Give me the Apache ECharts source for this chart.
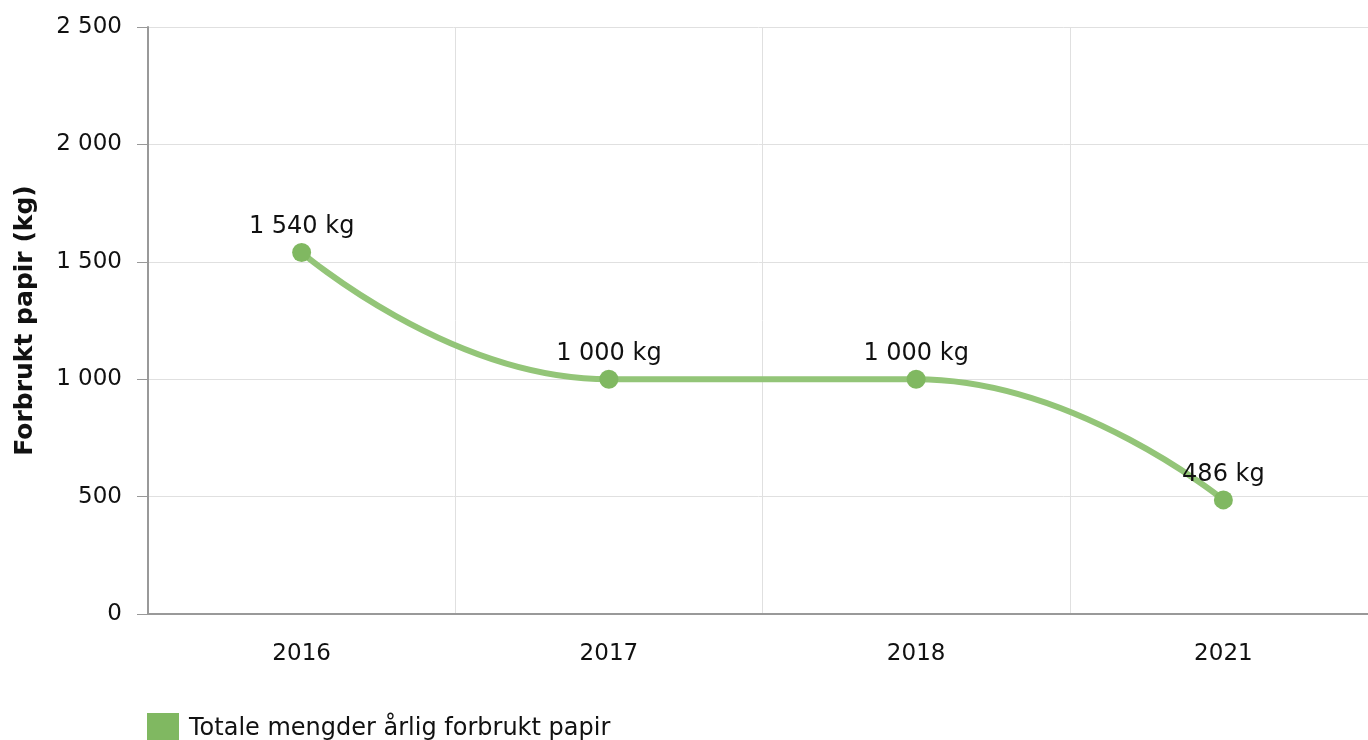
<!DOCTYPE html>
<html lang="no">
<head>
    <meta charset="utf-8">
    <title>Forbrukt papir</title>
    <script src="https://cdn.jsdelivr.net/npm/echarts@6/dist/echarts.min.js"></script>
    <style>
        html, body { margin: 0; padding: 0; background: #fff; }
        #main { width: 1368px; height: 740px; }
    </style>
</head>
<body>
<div id="main"></div>
<script type="text/javascript">
    // data
    var years = ['2016', '2017', '2018', '2021'];
    var paperKg = [1540, 1000, 1000, 486];
    var seriesName = 'Totale mengder årlig forbrukt papir';
    var yName = 'Forbrukt papir (kg)';

    // "1 540" style numbers
    function fmt(v) {
        return String(v).replace(/\B(?=(\d{3})+(?!\d))/g, ' ');
    }

    var font = 'DejaVu Sans, Verdana, sans-serif';
    var myChart = echarts.init(document.getElementById('main'));

    var option = {
        animation: false,
        textStyle: { fontFamily: font },
        grid: { left: 148, top: 27, bottom: 126, width: 1229, containLabel: false, outerBoundsMode: 'none' },
        legend: {
            data: [seriesName],
            left: 142,
            top: 708,
            icon: 'rect',
            itemWidth: 32,
            itemHeight: 32,
            textStyle: { fontSize: 24, color: '#111', fontFamily: font, padding: [0, 0, 0, 5] }
        },
        xAxis: {
            type: 'category',
            data: years,
            boundaryGap: true,
            axisLine: { lineStyle: { color: '#999', width: 2 } },
            axisTick: { alignWithLabel: true, length: 6, lineStyle: { color: '#999' } },
            axisLabel: { fontSize: 23, color: '#111', margin: 29, fontFamily: font },
            splitLine: { show: true, lineStyle: { color: '#e0e0e0' } }
        },
        yAxis: {
            type: 'value',
            min: 0,
            max: 2500,
            interval: 500,
            name: yName,
            nameLocation: 'middle',
            nameRotate: 90,
            nameGap: 110,
            nameTextStyle: { fontSize: 25, fontWeight: 'bold', color: '#111', fontFamily: font },
            axisLine: { show: true, lineStyle: { color: '#999', width: 2 } },
            axisTick: { show: true, length: 11, lineStyle: { color: '#999' } },
            axisLabel: { fontSize: 23, color: '#111', margin: 26, fontFamily: font, formatter: fmt },
            splitLine: { lineStyle: { color: '#e0e0e0' } }
        },
        series: [{
            name: seriesName,
            type: 'line',
            data: paperKg,
            smooth: 0.5,
            symbol: 'circle',
            symbolSize: 19,
            itemStyle: { color: '#80b861' },
            lineStyle: { color: '#93c578', width: 6 },
            label: {
                show: true,
                position: 'top',
                distance: 4,
                fontSize: 24,
                color: '#111',
                fontFamily: font,
                formatter: function (p) { return fmt(p.value) + ' kg'; }
            }
        }]
    };

    myChart.setOption(option);
</script>
</body>
</html>
